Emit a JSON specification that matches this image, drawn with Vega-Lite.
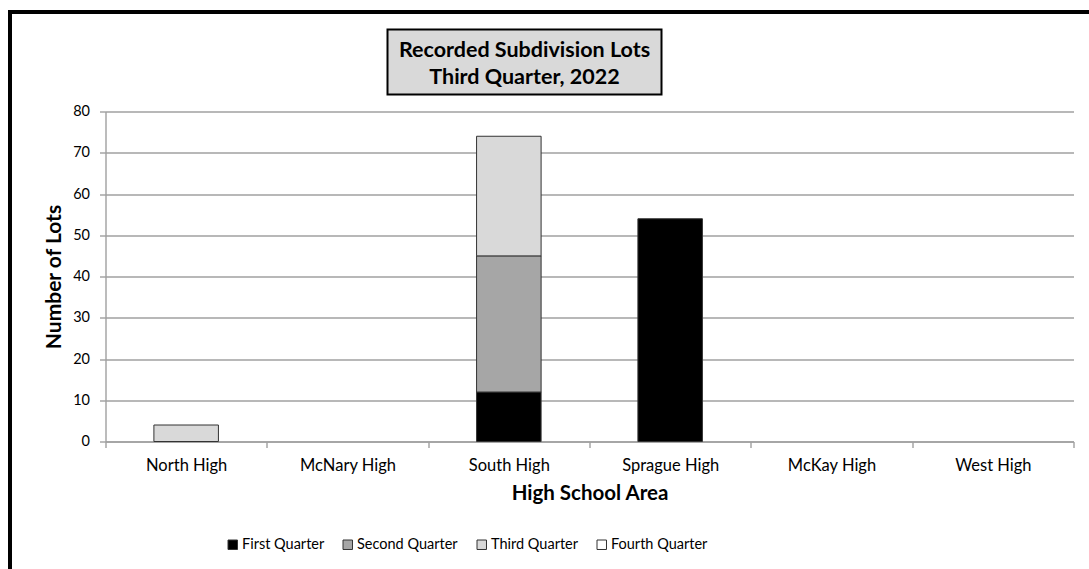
{
  "$schema": "https://vega.github.io/schema/vega-lite/v6.json",
  "padding": {"left": 7.5, "top": 9.5, "right": 0, "bottom": 0},
  "autosize": {"type": "pad"},
  "background": "white",
  "bounds": "flush",
  "spacing": 0,
  "config": {
    "font": "Lato",
    "view": {"stroke": null},
    "concat": {"spacing": 0}
  },
  "vconcat": [
    {
      "width": 1079, "height": 1,
      "view": {"fill": "black", "stroke": "black", "strokeWidth": 3},
      "data": {"values": []},
      "mark": "point",
      "encoding": {}
    },
    {
      "bounds": "flush",
      "spacing": 0,
      "hconcat": [
        {
          "width": 1, "height": 555,
          "view": {"fill": "black", "stroke": "black", "strokeWidth": 3},
          "data": {"values": []},
          "mark": "point",
          "encoding": {}
        },
        {
          "bounds": "flush",
          "spacing": 0,
          "vconcat": [
            {"width": 1, "height": 17, "data": {"values": []}, "mark": "point", "encoding": {}},
            {
              "bounds": "flush",
              "spacing": 0,
              "hconcat": [
                {"width": 377, "height": 1, "data": {"values": []}, "mark": "point", "encoding": {}},
                {
                  "width": 274, "height": 65,
                  "view": {"fill": "#d9d9d9", "stroke": "black", "strokeWidth": 2},
                  "data": {"values": [{"t": ["Recorded Subdivision Lots", "Third Quarter, 2022"]}]},
                  "mark": {"type": "text", "fontSize": 21.5, "fontWeight": "bold", "lineHeight": 27, "dy": -11, "color": "black", "font": "Lato"},
                  "encoding": {"text": {"field": "t"}}
                }
              ]
            },
            {"width": 1, "height": 82, "data": {"values": []}, "mark": "point", "encoding": {}},
            {
              "bounds": "flush",
              "spacing": 0,
              "hconcat": [
                {"width": 95, "height": 1, "data": {"values": []}, "mark": "point", "encoding": {}},
                {
                  "width": 968, "height": 330,
                  "data": {"values": [
                    {"school": "North High", "quarter": "Third Quarter", "q": 3, "lots": 4},
                    {"school": "South High", "quarter": "First Quarter", "q": 1, "lots": 12},
                    {"school": "South High", "quarter": "Second Quarter", "q": 2, "lots": 33},
                    {"school": "South High", "quarter": "Third Quarter", "q": 3, "lots": 29},
                    {"school": "Sprague High", "quarter": "First Quarter", "q": 1, "lots": 54}
                  ]},
                  "mark": {"type": "bar", "width": {"band": 0.4}, "stroke": "#333333", "strokeWidth": 1},
                  "encoding": {
                    "x": {
                      "field": "school", "type": "nominal",
                      "sort": ["North High", "McNary High", "South High", "Sprague High", "McKay High", "West High"],
                      "scale": {"domain": ["North High", "McNary High", "South High", "Sprague High", "McKay High", "West High"], "paddingInner": 0, "paddingOuter": 0},
                      "axis": {
                        "title": "High School Area", "titleFontSize": 20.5, "titleFontWeight": "bold", "titleColor": "black", "titlePadding": 9,
                        "labelAngle": 0, "labelFontSize": 16.5, "labelColor": "black", "labelPadding": 10,
                        "tickBand": "extent", "tickSize": 6, "tickColor": "#a0a0a0", "domainColor": "#a0a0a0", "domainWidth": 1.4, "tickWidth": 1.4,
                        "grid": false
                      }
                    },
                    "y": {
                      "field": "lots", "type": "quantitative", "stack": "zero",
                      "scale": {"domain": [0, 80], "nice": false},
                      "axis": {
                        "title": "Number of Lots", "titleFontSize": 21, "titleFontWeight": "bold", "titleColor": "black", "titlePadding": 8,
                        "values": [0, 10, 20, 30, 40, 50, 60, 70, 80],
                        "labelFontSize": 14.5, "labelColor": "black", "labelPadding": 10,
                        "tickSize": 6, "tickColor": "#a0a0a0", "domainColor": "#a0a0a0", "domainWidth": 1.4, "tickWidth": 1.4,
                        "grid": true, "gridColor": "#a0a0a0", "gridWidth": 1.4
                      }
                    },
                    "color": {
                      "field": "quarter", "type": "nominal",
                      "scale": {"domain": ["First Quarter", "Second Quarter", "Third Quarter", "Fourth Quarter"], "range": ["#000000", "#a6a6a6", "#d9d9d9", "#ffffff"]},
                      "legend": {
                        "title": null, "orient": "none", "direction": "horizontal", "legendX": 216, "legendY": 526,
                        "symbolType": "square", "symbolSize": 90, "symbolStrokeColor": "#333333", "symbolStrokeWidth": 1,
                        "labelFontSize": 14.5, "labelColor": "black", "labelOffset": 2, "columnPadding": 16
                      }
                    },
                    "order": {"field": "q", "sort": "ascending"}
                  }
                }
              ]
            }
          ]
        }
      ]
    }
  ]
}
